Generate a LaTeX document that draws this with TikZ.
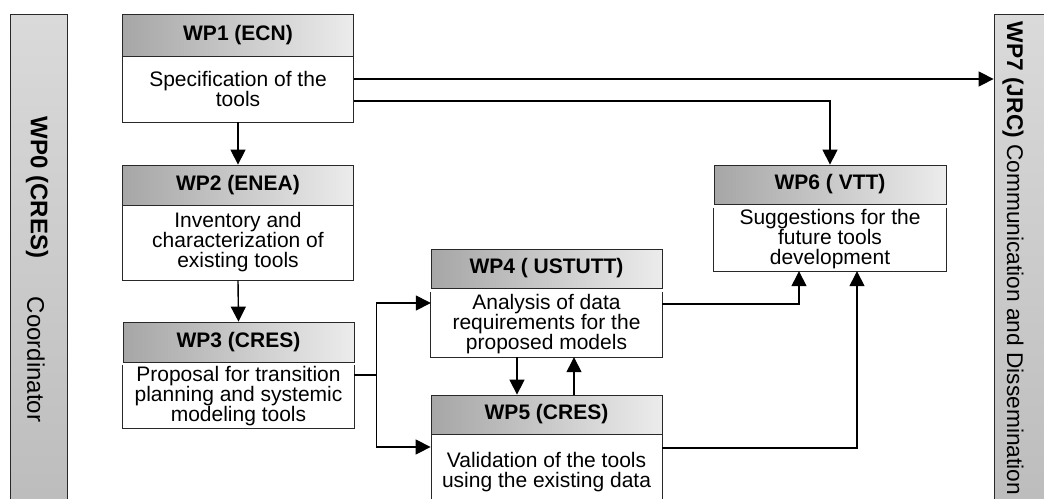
\documentclass[tikz,border=0pt]{standalone}
\usepackage{fontspec}
\setmainfont{Liberation Sans}
\usetikzlibrary{arrows.meta,calc}
\definecolor{hdrL}{RGB}{166,166,166}
\definecolor{hdrM}{RGB}{190,190,190}
\definecolor{hdrR}{RGB}{236,236,236}
\definecolor{barT}{RGB}{218,218,218}
\definecolor{barB}{RGB}{188,188,188}
\definecolor{edge}{RGB}{40,40,40}
\begin{document}
\begin{tikzpicture}[x=1pt,y=-1pt,
  hdr/.style={draw=edge,line width=0.8pt,left color=hdrL,middle color=hdrM,right color=hdrR,
    minimum width=231pt,inner sep=0pt,font=\fontsize{21}{20}\selectfont\bfseries},
  body/.style={fill=white,minimum width=231pt,inner sep=0pt,align=center,
    font=\fontsize{21}{20}\selectfont},
  boxed/.style={body,draw=edge,line width=0.8pt},
  arr/.style={line width=1.4pt,-{Triangle[length=15pt,width=15pt]}},
  ln/.style={line width=1.4pt},
  bar/.style={draw=edge,line width=0.8pt,top color=barT,bottom color=barB},
  vtext/.style={rotate=-90,inner sep=0pt}]
\clip (0,0) rectangle (1044,498);
\fill[white] (0,0) rectangle (1044,498);
% side bars
\node[bar,minimum width=57pt,minimum height=500pt,inner sep=0pt] (wp0) at (38.5,264) {};
\node[bar,minimum width=60pt,minimum height=500pt,inner sep=0pt] (wp7) at (1024,264) {};
\node[vtext,font=\fontsize{24}{24}\selectfont\bfseries] (wp0t) at (37,187.5) {WP0 (CRES)};
\node[vtext,font=\fontsize{24}{24}\selectfont] (wp0c) at (36,359.5) {Coordinator};
\node[vtext,font=\fontsize{22.7}{24}\selectfont] (wp7t) at (1013,258.5) {\textbf{WP7 (JRC)} Communication and Dissemination};
% WP1
\node[hdr,minimum height=42pt] (wp1h) at (238,35) {WP1 (ECN)};
\node[boxed,minimum height=66pt] (wp1b) at (238,89) {Specification of the\\tools};
% WP2
\node[hdr,minimum height=40pt] (wp2h) at (238,185) {WP2 (ENEA)};
\node[boxed,minimum height=75pt] (wp2b) at (238,242.5) {Inventory and\\characterization of\\existing tools};
% WP3
\node[hdr,minimum height=40pt] (wp3h) at (238.5,342) {WP3 (CRES)};
\node[body,minimum height=63pt] (wp3b) at (238.5,396.5) {Proposal for transition\\planning and systemic\\modeling tools};
\draw[edge,line width=0.8pt] (wp3b.north west) -- (wp3b.south west) -- (wp3b.south east) -- (wp3b.north east);
% WP4
\node[hdr,minimum height=39pt] (wp4h) at (546.5,268.5) {WP4 ( USTUTT)};
\node[body,minimum height=65pt] (wp4b) at (546.5,324.5) {Analysis of data\\requirements for the\\proposed models};
\draw[edge,line width=0.8pt] (wp4b.north west) -- (wp4b.south west) -- (wp4b.south east) -- (wp4b.north east);
% WP5
\node[hdr,minimum height=39pt] (wp5h) at (546.5,414.5) {WP5 (CRES)};
\node[boxed,minimum height=76pt] (wp5b) at (546.5,472) {Validation of the tools\\using the existing data};
% WP6
\node[hdr,minimum width=232pt,minimum height=39pt] (wp6h) at (830,184.5) {WP6 ( VTT)};
\node[body,minimum width=232pt,minimum height=63pt] (wp6b) at (830,239.5) {Suggestions for the\\future tools\\development};
\draw[edge,line width=0.8pt] (wp6b.north west) -- (wp6b.south west) -- (wp6b.south east) -- (wp6b.north east);
% connectors
\draw[arr] ([yshift=10pt]wp1b.east) -- ([yshift=10pt]wp1b.east -| wp7.west);
\draw[arr] ([yshift=-12pt]wp1b.east) -| (wp6h.north);
\draw[arr] (wp1b.south) -- (wp2h.north);
\draw[arr] (wp2b.south) -- (wp3h.north);
\draw[ln] ([yshift=21.5pt]wp3b.east) -- ++(22,0) coordinate (j);
\draw[arr] (j) |- ([yshift=21.5pt]wp4b.west);
\draw[arr] (j) |- ([yshift=25pt]wp5b.west);
\draw[arr] ([xshift=-29.5pt]wp4b.south) -- ([xshift=-29.5pt]wp5h.north);
\draw[arr] ([xshift=27.5pt]wp5h.north) -- ([xshift=27.5pt]wp4b.south);
\draw[arr] ([yshift=20.5pt]wp4b.east) -| ([xshift=-31pt]wp6b.south);
\draw[arr] ([yshift=24pt]wp5b.east) -| ([xshift=27pt]wp6b.south);
\end{tikzpicture}
\end{document}
